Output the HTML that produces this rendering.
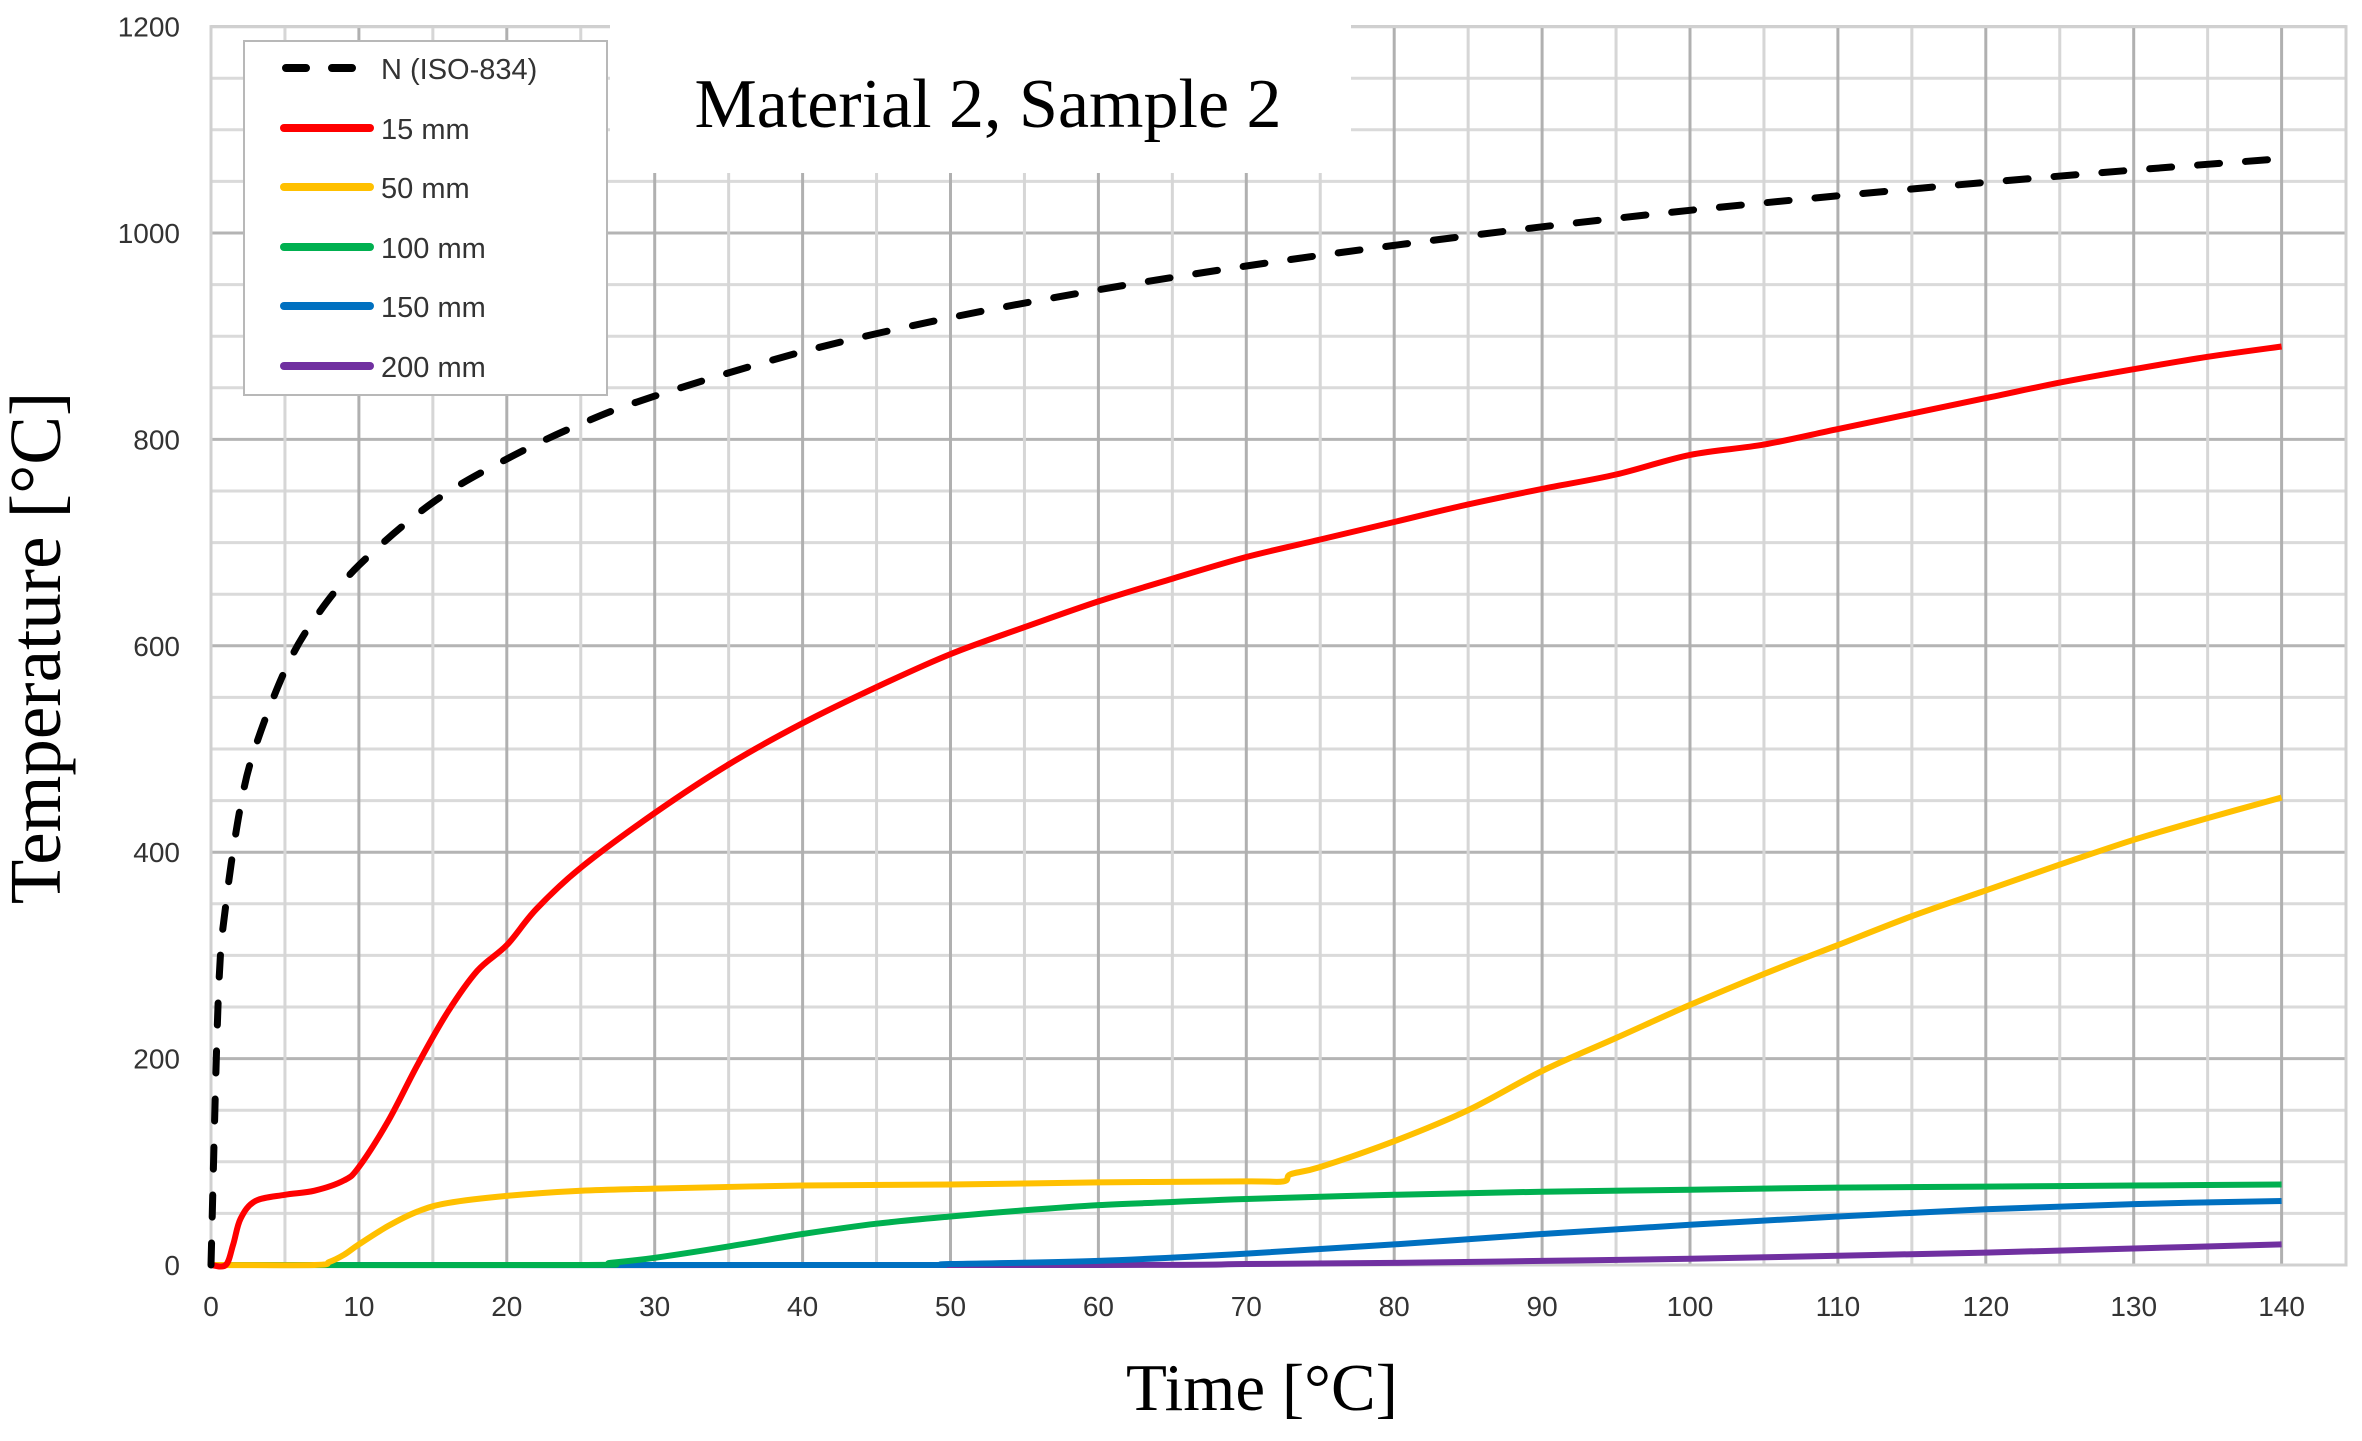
<!DOCTYPE html>
<html><head><meta charset="utf-8"><style>
html,body{margin:0;padding:0;background:#fff;}
svg{display:block;}
</style></head><body>
<svg id="chart" width="2362" height="1441" viewBox="0 0 2362 1441" xmlns="http://www.w3.org/2000/svg">
<g id="grid"></g>
<rect x="610" y="24" width="741" height="149" fill="#fff"/>
<g id="ticks"></g>
<g id="series"></g>
<g>
<rect x="244" y="41" width="363" height="354" fill="#fff" stroke="#b8b8b8" stroke-width="2"/>
<line x1="286" y1="68" x2="362" y2="68" stroke="#000" stroke-width="8" stroke-dasharray="20,26" stroke-linecap="round"/>
<text x="381" y="79" font-family="Liberation Sans, sans-serif" font-size="29" fill="#333">N (ISO-834)</text>
<line x1="284" y1="128" x2="370" y2="128" stroke="#ff0000" stroke-width="8" stroke-linecap="round"/>
<text x="381" y="139" font-family="Liberation Sans, sans-serif" font-size="29" fill="#333">15 mm</text>
<line x1="284" y1="187" x2="370" y2="187" stroke="#ffc000" stroke-width="8" stroke-linecap="round"/>
<text x="381" y="198" font-family="Liberation Sans, sans-serif" font-size="29" fill="#333">50 mm</text>
<line x1="284" y1="247" x2="370" y2="247" stroke="#00b050" stroke-width="8" stroke-linecap="round"/>
<text x="381" y="258" font-family="Liberation Sans, sans-serif" font-size="29" fill="#333">100 mm</text>
<line x1="284" y1="306" x2="370" y2="306" stroke="#0070c0" stroke-width="8" stroke-linecap="round"/>
<text x="381" y="317" font-family="Liberation Sans, sans-serif" font-size="29" fill="#333">150 mm</text>
<line x1="284" y1="366" x2="370" y2="366" stroke="#7030a0" stroke-width="8" stroke-linecap="round"/>
<text x="381" y="377" font-family="Liberation Sans, sans-serif" font-size="29" fill="#333">200 mm</text>
</g>
<text x="988" y="127" text-anchor="middle" font-family="Liberation Serif, serif" font-size="70" fill="#000">Material 2, Sample 2</text>
<text x="1262" y="1410" text-anchor="middle" font-family="Liberation Serif, serif" font-size="67" fill="#000">Time [°C]</text>
<text transform="translate(60,648) rotate(-90)" text-anchor="middle" font-family="Liberation Serif, serif" font-size="73" fill="#000">Temperature [°C]</text>
</svg>
<script>
const xTicks = [0,10,20,30,40,50,60,70,80,90,100,110,120,130,140];
const yTicks = [0,200,400,600,800,1000,1200];
const isoT = [0,0.5,1,2,3,5,7,10,15,20,25,30,40,50,60,70,80,90,100,110,120,130,140];
const isoV = [0,261,349,445,502,576,626,678,739,781,815,842,885,918,945,968,988,1006,1022,1036,1049,1061,1072];
const redT = [0,1,1.5,2,3,5,7,9,10,12,14,16,18,20,22,25,30,35,40,45,50,55,60,65,70,75,80,85,90,95,100,105,110,115,120,125,130,135,140];
const redV = [0,0,20,45,62,68,72,82,95,140,195,245,285,310,345,385,438,485,525,560,592,618,643,665,686,703,720,737,752,766,785,795,810,825,840,855,868,880,890];
const yelT = [0,7,8,9,10,12,14,16,20,25,30,40,50,60,70,72.5,73,75,80,85,90,95,100,105,110,115,120,125,130,135,140];
const yelV = [0,0,3,10,20,38,52,60,67,72,74,77,78,80,81,81,88,95,120,150,188,220,252,282,310,338,363,388,412,433,453];
const grnT = [0,25,27,30,35,40,45,50,55,60,65,70,80,90,100,110,120,130,140];
const grnV = [0,0,2,7,18,30,40,47,53,58,61,64,68,71,73,75,76,77,78];
const bluT = [0,45,50,60,70,80,90,100,110,120,130,140];
const bluV = [0,0,1,4,11,20,30,39,47,54,59,62];
const purT = [0,60,70,80,90,100,110,120,130,140];
const purV = [0,0,1,2,4,6,9,12,16,20];

const NS='http://www.w3.org/2000/svg';
const X0=211, XS=14.79, Y0=1265, YS=206.4/200;
function sx(t){return X0+t*XS;}
function sy(v){return Y0-v*YS;}
function mk(tag,attrs,parent){const e=document.createElementNS(NS,tag);for(const k in attrs)e.setAttribute(k,attrs[k]);parent.appendChild(e);return e;}

const grid=document.getElementById('grid');
for(let v=0;v<=1200;v+=50){
  const l=mk('line',{x1:sx(0),x2:2346,y1:sy(v),y2:sy(v),stroke:v%200===0?'#b4b4b4':'#dadada','stroke-width':3},grid);
  
  
}
for(let t=0;t<=144;t+=5){
  const l=mk('line',{x1:sx(t),x2:sx(t),y1:sy(1200),y2:sy(0),stroke:t%10===0?'#b0b0b0':'#d6d6d6','stroke-width':3},grid);
  
  
}
const border=mk('rect',{x:sx(0),y:sy(1200),width:2346-sx(0),height:sy(0)-sy(1200),fill:'none',stroke:'#d0d0d0','stroke-width':3},grid);



const ticks=document.getElementById('ticks');
xTicks.forEach(t=>{
  const e=mk('text',{x:sx(t),y:1316,'text-anchor':'middle','font-family':'Liberation Sans, sans-serif','font-size':28,fill:'#333'},ticks);
  e.textContent=t;
  
  
});
yTicks.forEach(v=>{
  const e=mk('text',{x:180,y:sy(v)+10,'text-anchor':'end','font-family':'Liberation Sans, sans-serif','font-size':28,fill:'#333'},ticks);
  e.textContent=v;
  
  
});

const series=document.getElementById('series');
function smoothPath(T,V){
  const P=T.map((t,i)=>[sx(t),sy(V[i])]);
  let d='M'+P[0][0].toFixed(1)+','+P[0][1].toFixed(1);
  for(let i=0;i<P.length-1;i++){
    const p0=P[i-1]||P[i],p1=P[i],p2=P[i+1],p3=P[i+2]||P[i+1];
    const c1=[p1[0]+(p2[0]-p0[0])/6,p1[1]+(p2[1]-p0[1])/6];
    const c2=[p2[0]-(p3[0]-p1[0])/6,p2[1]-(p3[1]-p1[1])/6];
    d+=' C'+c1[0].toFixed(1)+','+c1[1].toFixed(1)+' '+c2[0].toFixed(1)+','+c2[1].toFixed(1)+' '+p2[0].toFixed(1)+','+p2[1].toFixed(1);
  }
  return d;
}
function draw(T,V,color,name,dash){
  const a={d:smoothPath(T,V),fill:'none',stroke:color,'stroke-width':dash?7:6,'stroke-linejoin':'round','stroke-linecap':dash?'round':'butt'};
  if(dash)a['stroke-dasharray']='22,26';
  const p=mk('path',a,series);
  
  
}
draw(purT,purV,'#7030a0','line-200mm');
draw(bluT,bluV,'#0070c0','line-150mm');
draw(grnT,grnV,'#00b050','line-100mm');
draw(yelT,yelV,'#ffc000','line-50mm');
draw(redT,redV,'#ff0000','line-15mm');
draw(isoT,isoV,'#000000','line-iso834',true);
</script>
</body></html>
